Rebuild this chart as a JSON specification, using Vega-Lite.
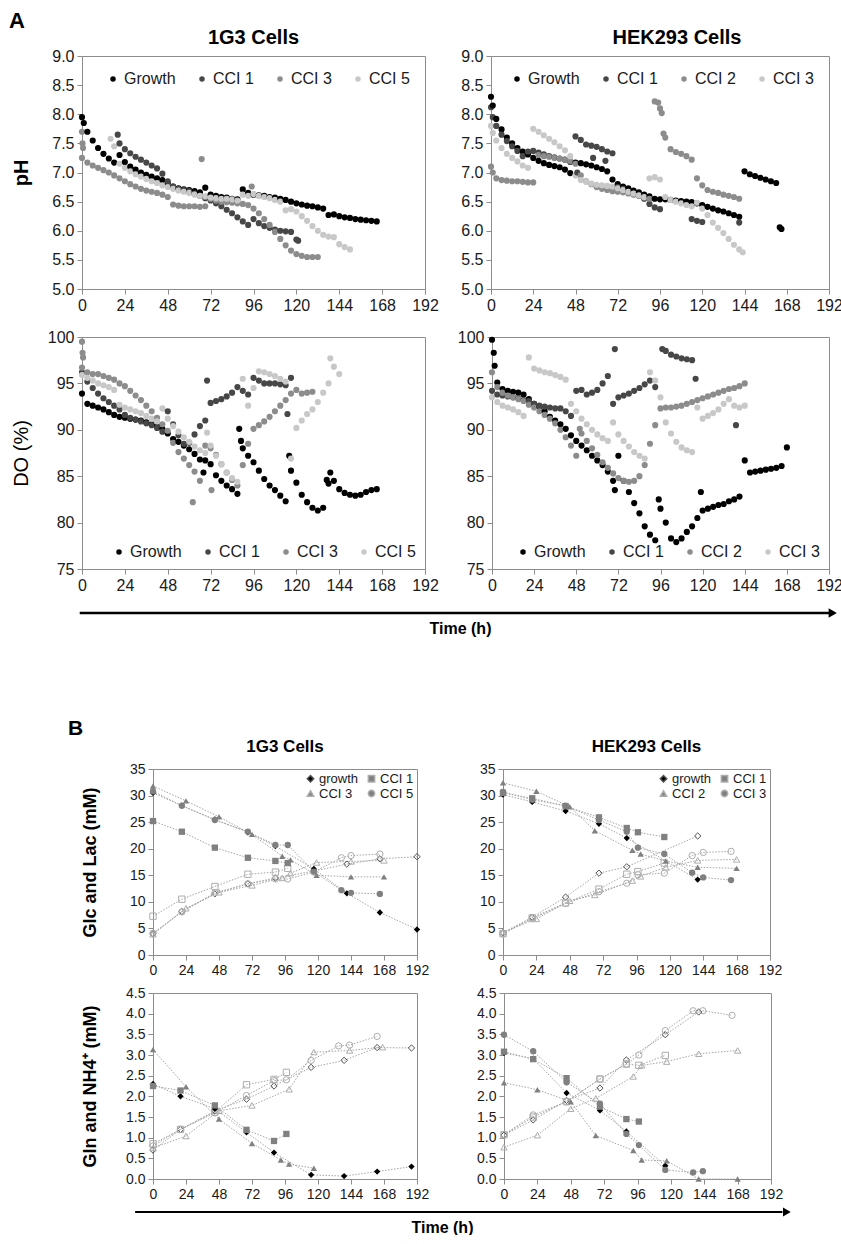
{
"$schema": "https://vega.github.io/schema/vega-lite/v6.json",
"padding": {"left": 9, "top": 9, "right": 0, "bottom": 0},
"background": "white",
"config": {
  "font": "Liberation Sans",
  "view": {"stroke": "#8c8c8c", "strokeWidth": 1},
  "axis": {"grid": false, "domainColor": "#8c8c8c", "tickColor": "#8c8c8c", "labelColor": "#1a1a1a", "titleColor": "#000000", "labelFont": "Liberation Sans", "titleFont": "Liberation Sans", "tickSize": 5, "labelPadding": 3},
  "legend": {"labelFont": "Liberation Sans", "labelColor": "#1a1a1a"},
  "title": {"font": "Liberation Sans", "fontWeight": "bold", "color": "#000000"}
},
"datasets": {
"p1": [
{"t":0,"G":7.95,"b":7.25},{"t":0,"b":7.7},{"t":0.3,"b":7.5},{"t":0.6,"b":7.42},{"t":1,"G":7.85},
{"t":3,"G":7.7,"b":7.17},{"t":6,"G":7.55,"b":7.12},{"t":9,"G":7.42,"b":7.08},{"t":12,"G":7.32,"b":7.04},{"t":15,"G":7.24,"b":7.0},
{"t":16,"c":7.58},{"t":18,"G":7.17,"b":6.95,"c":7.45},{"t":20,"a":7.65},
{"t":21,"G":7.3,"a":7.5,"b":6.9,"c":7.15},{"t":24,"G":7.18,"a":7.4,"b":6.85,"c":7.08},{"t":27,"G":7.1,"a":7.33,"b":6.8,"c":7.02},
{"t":30,"G":7.05,"a":7.27,"b":6.76,"c":6.97},{"t":33,"G":7.0,"a":7.22,"b":6.72,"c":6.93},{"t":36,"G":6.96,"a":7.17,"b":6.69,"c":6.89},
{"t":39,"G":6.93,"a":7.12,"b":6.67,"c":6.85},{"t":42,"G":6.9,"a":7.07,"b":6.65,"c":6.82},{"t":45,"G":6.87,"a":6.98,"b":6.62,"c":6.78},
{"t":48,"G":6.82,"a":6.85,"b":6.58,"c":6.75},{"t":51,"G":6.76,"a":6.76,"b":6.45,"c":6.72},{"t":54,"G":6.73,"a":6.72,"b":6.43,"c":6.69},
{"t":57,"G":6.71,"a":6.7,"b":6.42,"c":6.67},{"t":60,"G":6.7,"a":6.68,"b":6.42,"c":6.65},{"t":63,"G":6.68,"a":6.64,"b":6.42,"c":6.62},
{"t":66,"G":6.66,"a":6.6,"b":6.41,"c":6.6},{"t":67,"b":7.23},{"t":69,"G":6.74,"a":6.56,"b":6.42,"c":6.59},
{"t":72,"G":6.62,"a":6.52,"b":6.55,"c":6.57},{"t":75,"G":6.6,"a":6.47,"b":6.52,"c":6.56},{"t":78,"G":6.58,"a":6.42,"b":6.5,"c":6.55},
{"t":81,"G":6.57,"a":6.36,"b":6.49,"c":6.55},{"t":84,"G":6.55,"a":6.3,"b":6.48,"c":6.54},{"t":87,"G":6.54,"a":6.23,"b":6.47,"c":6.52},
{"t":90,"G":6.71,"a":6.16,"b":6.46,"c":6.62},{"t":93,"G":6.65,"a":6.1,"b":6.44,"c":6.6},{"t":95,"b":6.76},
{"t":96,"G":6.62,"a":6.2,"b":6.38,"c":6.63},{"t":99,"G":6.61,"a":6.13,"b":6.3,"c":6.6},{"t":102,"G":6.6,"a":6.08,"b":6.2,"c":6.58},
{"t":105,"G":6.58,"a":6.05,"b":6.1,"c":6.56},{"t":108,"G":6.57,"a":6.02,"b":5.98,"c":6.53},{"t":111,"G":6.55,"a":6.0,"b":5.86,"c":6.5},
{"t":114,"G":6.53,"a":5.99,"b":5.75,"c":6.35},{"t":117,"G":6.5,"a":5.98,"b":5.66,"c":6.37},{"t":120,"G":6.47,"a":5.85,"b":5.6,"c":6.33},
{"t":121,"a":5.83},{"t":123,"G":6.45,"b":5.57,"c":6.25},{"t":126,"G":6.43,"b":5.55,"c":6.17},{"t":129,"G":6.42,"b":5.55,"c":6.08},
{"t":132,"G":6.4,"b":5.55,"c":6.0},{"t":135,"G":6.38,"c":5.93},{"t":138,"G":6.27,"c":5.9},{"t":141,"G":6.28,"c":5.89},
{"t":144,"G":6.25,"c":5.77},{"t":147,"G":6.23,"c":5.72},{"t":150,"G":6.22,"c":5.68},{"t":153,"G":6.2},{"t":156,"G":6.19},
{"t":159,"G":6.18},{"t":162,"G":6.17},{"t":165,"G":6.16}
],
"p2": [
{"t":0,"G":8.3,"a":8.12,"b":7.1,"c":7.8},{"t":1,"G":8.15,"a":7.95,"b":7.0,"c":7.68},{"t":3,"G":7.92,"a":7.8,"b":6.9,"c":7.55},
{"t":6,"G":7.74,"a":7.65,"b":6.87,"c":7.42},{"t":9,"G":7.6,"a":7.54,"b":6.86,"c":7.32},{"t":12,"G":7.5,"a":7.45,"b":6.85,"c":7.25},
{"t":15,"G":7.42,"a":7.37,"b":6.85,"c":7.19},{"t":18,"G":7.36,"a":7.28,"b":6.84,"c":7.12},{"t":21,"G":7.31,"a":7.36,"b":6.83,"c":7.08},
{"t":24,"G":7.25,"a":7.37,"b":6.83,"c":7.75},{"t":27,"G":7.2,"a":7.34,"b":7.3,"c":7.7},{"t":30,"G":7.16,"a":7.31,"b":7.28,"c":7.64},
{"t":33,"G":7.13,"a":7.28,"b":7.27,"c":7.58},{"t":36,"G":7.11,"a":7.26,"b":7.25,"c":7.52},{"t":39,"G":7.09,"a":7.24,"b":7.24,"c":7.45},
{"t":42,"G":7.05,"a":7.22,"b":7.22,"c":7.38},{"t":45,"G":6.99,"a":7.18,"b":7.2,"c":7.28},{"t":48,"G":7.17,"a":7.62,"b":7.15,"c":6.95},
{"t":49,"a":7.0},{"t":51,"G":7.16,"a":7.56,"b":6.95,"c":6.87},{"t":54,"G":7.14,"a":7.48,"b":6.85,"c":6.84},
{"t":57,"G":7.12,"a":7.46,"b":6.8,"c":6.81},{"t":58,"a":7.25},{"t":60,"G":7.09,"a":7.44,"b":6.75,"c":6.79},
{"t":63,"G":7.06,"a":7.4,"b":6.72,"c":6.78},{"t":65,"a":7.2},{"t":66,"G":7.02,"a":7.36,"b":6.7,"c":6.77},
{"t":69,"G":6.88,"a":7.33,"b":6.68,"c":6.76},{"t":72,"G":6.8,"a":6.75,"b":6.67,"c":6.73},{"t":75,"G":6.76,"a":6.72,"b":6.66,"c":6.7},
{"t":78,"G":6.73,"a":6.67,"b":6.64,"c":6.67},{"t":81,"G":6.69,"a":6.64,"b":6.62,"c":6.64},{"t":84,"G":6.66,"a":6.6,"b":6.6,"c":6.61},
{"t":87,"G":6.62,"a":6.55,"b":6.57,"c":6.58},{"t":90,"G":6.59,"a":6.46,"b":6.55,"c":6.9},{"t":93,"G":6.55,"a":6.4,"b":8.22,"c":6.92},
{"t":95,"b":8.2},{"t":96,"G":6.54,"a":6.37,"b":8.1,"c":6.88},{"t":97,"b":8.02},{"t":98,"b":7.67},
{"t":99,"G":6.54,"b":7.6,"c":6.58},{"t":102,"G":6.53,"b":7.4,"c":6.53},{"t":105,"G":6.52,"b":7.35,"c":6.5},
{"t":108,"G":6.51,"b":7.32,"c":6.47},{"t":111,"G":6.5,"b":7.28,"c":6.44},{"t":114,"G":6.49,"a":6.2,"b":7.22,"c":6.42},
{"t":117,"G":6.47,"a":6.17,"b":6.9,"c":6.48},{"t":120,"G":6.44,"a":6.15,"b":6.78,"c":6.38},{"t":123,"G":6.41,"b":6.7,"c":6.27},
{"t":126,"G":6.38,"b":6.67,"c":6.14},{"t":129,"G":6.35,"b":6.65,"c":6.05},{"t":132,"G":6.33,"b":6.62,"c":5.96},
{"t":135,"G":6.3,"b":6.6,"c":5.86},{"t":138,"G":6.27,"b":6.58,"c":5.76},{"t":141,"G":6.24,"a":6.14,"b":6.55,"c":5.68},
{"t":143,"c":5.63},{"t":144,"G":7.02},{"t":147,"G":6.97},{"t":150,"G":6.94},{"t":153,"G":6.91},{"t":156,"G":6.88},
{"t":159,"G":6.85},{"t":162,"G":6.82},{"t":164,"G":6.06},{"t":165,"G":6.03}
],
"d1": [
{"t":0,"G":93.9,"a":96.2,"b":96.7,"c":95.9},{"t":0,"b":99.5},{"t":0.3,"b":98.3},{"t":0.6,"b":97.8},
{"t":3,"G":92.8,"a":95.2,"b":96.2,"c":95.6},{"t":6,"G":92.6,"a":94.5,"b":96.0,"c":95.3},{"t":9,"G":92.4,"a":93.9,"b":96.0,"c":95.0},
{"t":12,"G":92.2,"a":93.4,"b":95.8,"c":94.8},{"t":15,"G":91.9,"a":93.0,"b":95.6,"c":94.6},{"t":18,"G":91.6,"a":92.6,"b":95.4,"c":94.3},
{"t":21,"G":91.4,"a":92.2,"b":95.0,"c":92.7},{"t":24,"G":91.3,"a":91.6,"b":94.7,"c":92.4},{"t":27,"G":91.2,"a":91.3,"b":94.2,"c":92.2},
{"t":30,"G":91.1,"a":91.1,"b":93.7,"c":92.0},{"t":33,"G":91.0,"a":90.9,"b":93.2,"c":91.8},{"t":36,"G":90.8,"a":90.7,"b":92.6,"c":91.5},
{"t":39,"G":90.6,"a":90.5,"b":92.0,"c":91.2},{"t":42,"G":90.4,"a":90.2,"b":91.3,"c":90.9},{"t":45,"G":90.1,"a":89.8,"b":90.6,"c":92.3},
{"t":48,"G":89.6,"a":92.0,"b":89.9,"c":91.2},{"t":51,"G":89.0,"a":90.6,"b":88.6,"c":90.4},{"t":54,"G":88.7,"a":89.4,"b":87.6,"c":89.8},
{"t":57,"G":88.3,"a":88.5,"b":86.9,"c":89.2},{"t":60,"G":87.9,"a":88.6,"b":86.2,"c":88.7},{"t":62,"b":82.2},
{"t":63,"G":87.4,"a":89.5,"b":85.5,"c":88.2},{"t":66,"G":86.8,"a":90.4,"b":84.5,"c":87.8},{"t":68,"G":85.4},
{"t":69,"G":86.7,"a":91.0,"b":88.3,"c":87.5},{"t":70,"a":95.3,"c":89.7},{"t":72,"G":86.3,"a":92.9,"b":88.0,"c":88.3},{"t":72.5,"b":83.5},
{"t":75,"G":85.1,"a":93.1,"b":87.3,"c":87.2},{"t":78,"G":84.5,"a":93.3,"b":86.3,"c":86.3},{"t":81,"G":84.0,"a":93.6,"b":85.4,"c":85.4},
{"t":84,"G":83.6,"a":94.0,"b":84.6,"c":84.8},{"t":87,"G":83.1,"a":94.6,"b":84.0,"c":84.4},{"t":88,"G":90.1},{"t":89,"G":88.8},
{"t":90,"G":88.0,"a":94.2,"b":86.2,"c":95.5},{"t":93,"G":87.2,"a":93.8,"b":88.5,"c":92.6},{"t":96,"G":86.5,"a":95.6,"b":90.1,"c":94.5},
{"t":99,"G":85.6,"a":95.3,"b":90.5,"c":96.3},{"t":102,"G":84.7,"a":95.0,"b":90.9,"c":96.2},{"t":105,"G":84.0,"a":95.0,"b":91.4,"c":96.0},
{"t":108,"G":83.5,"a":95.0,"b":92.0,"c":95.8},{"t":111,"G":82.9,"a":94.9,"b":92.6,"c":95.5},{"t":114,"G":82.3,"a":94.8,"b":93.2,"c":95.2},
{"t":115,"a":91.7},{"t":116,"G":87.2},{"t":117,"G":85.6,"a":95.6,"b":93.9,"c":86.9},{"t":120,"G":84.3,"b":94.3,"c":90.2},
{"t":123,"G":83.0,"b":93.9,"c":91.0},{"t":126,"G":82.2,"b":94.0,"c":91.7},{"t":129,"G":81.6,"b":94.1,"c":92.2},
{"t":132,"G":81.3,"c":93.0},{"t":135,"G":81.6,"c":94.0},{"t":137,"G":84.6},{"t":138,"G":84.2,"c":95.0},{"t":139,"G":85.4,"c":97.7},
{"t":141,"G":84.5,"c":96.8},{"t":144,"G":83.6,"c":96.0},{"t":147,"G":83.2},{"t":150,"G":83.0},{"t":153,"G":82.9},
{"t":156,"G":83.0},{"t":159,"G":83.3},{"t":162,"G":83.5},{"t":165,"G":83.6}
],
"d2": [
{"t":0,"G":99.7,"a":94.2,"b":96.2,"c":93.5},{"t":1,"G":98.3},{"t":1.5,"G":96.9},
{"t":3,"G":95.1,"a":93.8,"b":94.6,"c":93.0},{"t":6,"G":94.4,"a":93.7,"b":94.0,"c":92.6},{"t":9,"G":94.2,"a":93.6,"b":93.7,"c":92.4},
{"t":12,"G":94.1,"a":93.5,"b":93.5,"c":92.2},{"t":15,"G":94.0,"a":93.4,"b":93.3,"c":91.9},{"t":18,"G":93.8,"a":93.2,"b":93.1,"c":91.5},
{"t":21,"G":93.3,"a":93.1,"b":92.7,"c":97.8},{"t":24,"G":92.8,"a":92.8,"b":92.4,"c":96.6},{"t":27,"G":92.5,"a":92.6,"b":92.0,"c":96.4},
{"t":30,"G":92.0,"a":92.5,"b":91.6,"c":96.2},{"t":33,"G":91.4,"a":92.4,"b":91.2,"c":96.1},{"t":36,"G":91.0,"a":92.3,"b":90.7,"c":95.9},
{"t":39,"G":90.6,"a":92.3,"b":90.0,"c":95.7},{"t":42,"G":90.1,"a":92.0,"b":89.2,"c":95.4},{"t":45,"G":89.4,"a":91.5,"b":88.3,"c":92.8},
{"t":48,"G":88.8,"a":94.2,"b":87.2,"c":92.0},{"t":50,"b":90.1},{"t":51,"G":88.3,"a":94.3,"b":89.6,"c":91.2},
{"t":54,"G":87.8,"a":93.8,"b":88.8,"c":90.6},{"t":57,"G":87.2,"a":94.0,"b":88.0,"c":90.0},{"t":60,"G":86.7,"a":94.3,"b":87.3,"c":89.5},
{"t":63,"G":86.2,"a":95.0,"b":86.5,"c":89.1},{"t":66,"G":85.5,"a":95.8,"b":85.9,"c":88.8},{"t":69,"G":84.5,"a":92.8,"b":85.3,"c":90.8},
{"t":70,"G":83.5,"a":98.7},{"t":72,"G":87.2,"a":93.5,"b":84.8,"c":89.5},{"t":75,"G":84.5,"a":93.7,"b":84.5,"c":88.8},
{"t":78,"G":83.3,"a":93.9,"b":84.4,"c":88.2},{"t":81,"G":82.1,"a":94.2,"b":84.5,"c":87.6},{"t":84,"G":81.0,"a":94.5,"b":85.0,"c":87.2},
{"t":87,"G":79.6,"a":94.9,"b":86.2,"c":86.9},{"t":90,"G":78.7,"a":95.3,"b":88.5,"c":96.2},{"t":93,"G":78.1,"a":94.6,"b":90.5,"c":95.3},
{"t":95,"G":82.5},{"t":96,"G":81.5,"b":92.3,"c":93.5},{"t":97,"a":98.7},{"t":99,"G":80.0,"a":98.5,"b":92.4,"c":90.8},
{"t":102,"G":78.3,"a":98.1,"b":92.4,"c":89.6},{"t":105,"G":77.9,"a":97.9,"b":92.5,"c":88.7},{"t":108,"G":78.3,"a":97.7,"b":92.6,"c":88.1},
{"t":111,"G":79.0,"a":97.6,"b":92.8,"c":87.8},{"t":114,"G":79.6,"a":97.5,"b":93.0,"c":87.6},{"t":116,"a":95.5},
{"t":117,"G":80.5,"b":93.2,"c":92.4},{"t":119,"G":83.3},{"t":120,"G":81.3,"b":93.4,"c":91.2},{"t":123,"G":81.5,"b":93.6,"c":91.5},
{"t":126,"G":81.7,"b":93.8,"c":91.8},{"t":129,"G":81.9,"b":94.0,"c":92.2},{"t":132,"G":82.0,"b":94.2,"c":92.8},
{"t":135,"G":82.3,"b":94.4,"c":93.3},{"t":138,"G":82.5,"b":94.5,"c":92.6},{"t":139,"a":90.5},{"t":141,"G":82.8,"b":94.7,"c":92.4},
{"t":144,"G":86.7,"b":95.0,"c":92.6},{"t":147,"G":85.4},{"t":150,"G":85.5},{"t":153,"G":85.6},{"t":156,"G":85.7},
{"t":159,"G":85.8},{"t":162,"G":85.9},{"t":165,"G":86.1},{"t":168,"G":88.1}
],
"g1": [
{"s":"growth","m":"Glc","t":0,"y":30.5},{"s":"growth","m":"Glc","t":21,"y":28.1},{"s":"growth","m":"Glc","t":45,"y":25.5},{"s":"growth","m":"Glc","t":69,"y":23.1},{"s":"growth","m":"Glc","t":89,"y":20.5},{"s":"growth","m":"Glc","t":117,"y":16.2},{"s":"growth","m":"Glc","t":141,"y":11.6},{"s":"growth","m":"Glc","t":165,"y":8.0},{"s":"growth","m":"Glc","t":192,"y":4.8},
{"s":"growth","m":"Lac","t":0,"y":4.0},{"s":"growth","m":"Lac","t":21,"y":8.2},{"s":"growth","m":"Lac","t":45,"y":11.5},{"s":"growth","m":"Lac","t":69,"y":13.4},{"s":"growth","m":"Lac","t":89,"y":14.5},{"s":"growth","m":"Lac","t":117,"y":15.8},{"s":"growth","m":"Lac","t":141,"y":17.1},{"s":"growth","m":"Lac","t":165,"y":18.1},{"s":"growth","m":"Lac","t":192,"y":18.5},
{"s":"CCI 1","m":"Glc","t":0,"y":25.2},{"s":"CCI 1","m":"Glc","t":21,"y":23.2},{"s":"CCI 1","m":"Glc","t":45,"y":20.2},{"s":"CCI 1","m":"Glc","t":69,"y":18.3},{"s":"CCI 1","m":"Glc","t":89,"y":17.7},{"s":"CCI 1","m":"Glc","t":98,"y":17.3},
{"s":"CCI 1","m":"Lac","t":0,"y":7.3},{"s":"CCI 1","m":"Lac","t":21,"y":10.5},{"s":"CCI 1","m":"Lac","t":45,"y":12.9},{"s":"CCI 1","m":"Lac","t":69,"y":15.2},{"s":"CCI 1","m":"Lac","t":89,"y":15.6},{"s":"CCI 1","m":"Lac","t":98,"y":16.3},
{"s":"CCI 3","m":"Glc","t":0,"y":31.8},{"s":"CCI 3","m":"Glc","t":24,"y":29.0},{"s":"CCI 3","m":"Glc","t":48,"y":26.0},{"s":"CCI 3","m":"Glc","t":72,"y":22.7},{"s":"CCI 3","m":"Glc","t":94,"y":18.6},{"s":"CCI 3","m":"Glc","t":100,"y":17.9},{"s":"CCI 3","m":"Glc","t":119,"y":15.0},{"s":"CCI 3","m":"Glc","t":144,"y":14.7},{"s":"CCI 3","m":"Glc","t":168,"y":14.7},
{"s":"CCI 3","m":"Lac","t":0,"y":3.9},{"s":"CCI 3","m":"Lac","t":24,"y":8.8},{"s":"CCI 3","m":"Lac","t":48,"y":11.8},{"s":"CCI 3","m":"Lac","t":72,"y":13.1},{"s":"CCI 3","m":"Lac","t":94,"y":14.5},{"s":"CCI 3","m":"Lac","t":100,"y":15.4},{"s":"CCI 3","m":"Lac","t":119,"y":17.4},{"s":"CCI 3","m":"Lac","t":144,"y":17.6},{"s":"CCI 3","m":"Lac","t":168,"y":17.8},
{"s":"CCI 5","m":"Glc","t":0,"y":30.8},{"s":"CCI 5","m":"Glc","t":21,"y":28.1},{"s":"CCI 5","m":"Glc","t":45,"y":25.4},{"s":"CCI 5","m":"Glc","t":69,"y":23.2},{"s":"CCI 5","m":"Glc","t":89,"y":20.7},{"s":"CCI 5","m":"Glc","t":98,"y":20.7},{"s":"CCI 5","m":"Glc","t":117,"y":15.7},{"s":"CCI 5","m":"Glc","t":137,"y":12.2},{"s":"CCI 5","m":"Glc","t":144,"y":11.7},{"s":"CCI 5","m":"Glc","t":165,"y":11.5},
{"s":"CCI 5","m":"Lac","t":0,"y":4.1},{"s":"CCI 5","m":"Lac","t":21,"y":8.1},{"s":"CCI 5","m":"Lac","t":45,"y":11.7},{"s":"CCI 5","m":"Lac","t":69,"y":13.4},{"s":"CCI 5","m":"Lac","t":89,"y":14.3},{"s":"CCI 5","m":"Lac","t":98,"y":14.3},{"s":"CCI 5","m":"Lac","t":117,"y":15.6},{"s":"CCI 5","m":"Lac","t":137,"y":18.3},{"s":"CCI 5","m":"Lac","t":144,"y":18.7},{"s":"CCI 5","m":"Lac","t":165,"y":19.0}
],
"g2": [
{"s":"growth","m":"Glc","t":0,"y":30.2},{"s":"growth","m":"Glc","t":21,"y":28.8},{"s":"growth","m":"Glc","t":45,"y":27.1},{"s":"growth","m":"Glc","t":69,"y":24.7},{"s":"growth","m":"Glc","t":89,"y":22.0},{"s":"growth","m":"Glc","t":140,"y":14.2},
{"s":"growth","m":"Lac","t":0,"y":4.2},{"s":"growth","m":"Lac","t":21,"y":7.1},{"s":"growth","m":"Lac","t":45,"y":10.9},{"s":"growth","m":"Lac","t":69,"y":15.4},{"s":"growth","m":"Lac","t":89,"y":16.6},{"s":"growth","m":"Lac","t":140,"y":22.4},
{"s":"CCI 1","m":"Glc","t":0,"y":30.5},{"s":"CCI 1","m":"Glc","t":21,"y":29.5},{"s":"CCI 1","m":"Glc","t":45,"y":28.0},{"s":"CCI 1","m":"Glc","t":69,"y":25.9},{"s":"CCI 1","m":"Glc","t":89,"y":23.9},{"s":"CCI 1","m":"Glc","t":97,"y":23.1},{"s":"CCI 1","m":"Glc","t":116,"y":22.2},
{"s":"CCI 1","m":"Lac","t":0,"y":4.0},{"s":"CCI 1","m":"Lac","t":21,"y":7.0},{"s":"CCI 1","m":"Lac","t":45,"y":9.8},{"s":"CCI 1","m":"Lac","t":69,"y":12.4},{"s":"CCI 1","m":"Lac","t":89,"y":15.2},{"s":"CCI 1","m":"Lac","t":97,"y":15.7},{"s":"CCI 1","m":"Lac","t":116,"y":17.3},
{"s":"CCI 2","m":"Glc","t":0,"y":32.4},{"s":"CCI 2","m":"Glc","t":24,"y":30.8},{"s":"CCI 2","m":"Glc","t":48,"y":27.9},{"s":"CCI 2","m":"Glc","t":66,"y":23.4},{"s":"CCI 2","m":"Glc","t":93,"y":19.7},{"s":"CCI 2","m":"Glc","t":99,"y":19.0},{"s":"CCI 2","m":"Glc","t":117,"y":17.7},{"s":"CCI 2","m":"Glc","t":140,"y":16.5},{"s":"CCI 2","m":"Glc","t":168,"y":16.3},
{"s":"CCI 2","m":"Lac","t":0,"y":4.3},{"s":"CCI 2","m":"Lac","t":24,"y":6.8},{"s":"CCI 2","m":"Lac","t":48,"y":10.2},{"s":"CCI 2","m":"Lac","t":66,"y":11.3},{"s":"CCI 2","m":"Lac","t":93,"y":14.0},{"s":"CCI 2","m":"Lac","t":99,"y":14.8},{"s":"CCI 2","m":"Lac","t":117,"y":16.5},{"s":"CCI 2","m":"Lac","t":140,"y":17.8},{"s":"CCI 2","m":"Lac","t":168,"y":18.0},
{"s":"CCI 3","m":"Glc","t":0,"y":30.7},{"s":"CCI 3","m":"Glc","t":21,"y":29.2},{"s":"CCI 3","m":"Glc","t":45,"y":28.1},{"s":"CCI 3","m":"Glc","t":69,"y":25.4},{"s":"CCI 3","m":"Glc","t":89,"y":23.2},{"s":"CCI 3","m":"Glc","t":97,"y":20.2},{"s":"CCI 3","m":"Glc","t":116,"y":19.0},{"s":"CCI 3","m":"Glc","t":136,"y":15.5},{"s":"CCI 3","m":"Glc","t":144,"y":14.6},{"s":"CCI 3","m":"Glc","t":164,"y":14.1},
{"s":"CCI 3","m":"Lac","t":0,"y":4.0},{"s":"CCI 3","m":"Lac","t":21,"y":6.8},{"s":"CCI 3","m":"Lac","t":45,"y":9.7},{"s":"CCI 3","m":"Lac","t":69,"y":11.9},{"s":"CCI 3","m":"Lac","t":89,"y":13.5},{"s":"CCI 3","m":"Lac","t":97,"y":15.1},{"s":"CCI 3","m":"Lac","t":116,"y":15.4},{"s":"CCI 3","m":"Lac","t":136,"y":18.7},{"s":"CCI 3","m":"Lac","t":144,"y":19.3},{"s":"CCI 3","m":"Lac","t":164,"y":19.5}
],
"n1": [
{"s":"growth","m":"Gln","t":0,"y":2.3},{"s":"growth","m":"Gln","t":20,"y":2.0},{"s":"growth","m":"Gln","t":45,"y":1.7},{"s":"growth","m":"Gln","t":68,"y":1.13},{"s":"growth","m":"Gln","t":88,"y":0.64},{"s":"growth","m":"Gln","t":115,"y":0.1},{"s":"growth","m":"Gln","t":139,"y":0.07},{"s":"growth","m":"Gln","t":163,"y":0.18},{"s":"growth","m":"Gln","t":188,"y":0.3},
{"s":"growth","m":"NH4","t":0,"y":0.7},{"s":"growth","m":"NH4","t":20,"y":1.2},{"s":"growth","m":"NH4","t":45,"y":1.65},{"s":"growth","m":"NH4","t":68,"y":1.93},{"s":"growth","m":"NH4","t":88,"y":2.25},{"s":"growth","m":"NH4","t":115,"y":2.7},{"s":"growth","m":"NH4","t":139,"y":2.87},{"s":"growth","m":"NH4","t":163,"y":3.18},{"s":"growth","m":"NH4","t":188,"y":3.17},
{"s":"CCI 1","m":"Gln","t":0,"y":2.25},{"s":"CCI 1","m":"Gln","t":20,"y":2.14},{"s":"CCI 1","m":"Gln","t":45,"y":1.78},{"s":"CCI 1","m":"Gln","t":68,"y":1.19},{"s":"CCI 1","m":"Gln","t":88,"y":0.92},{"s":"CCI 1","m":"Gln","t":97,"y":1.09},
{"s":"CCI 1","m":"NH4","t":0,"y":0.85},{"s":"CCI 1","m":"NH4","t":20,"y":1.2},{"s":"CCI 1","m":"NH4","t":45,"y":1.62},{"s":"CCI 1","m":"NH4","t":68,"y":2.28},{"s":"CCI 1","m":"NH4","t":88,"y":2.41},{"s":"CCI 1","m":"NH4","t":97,"y":2.58},
{"s":"CCI 3","m":"Gln","t":0,"y":3.13},{"s":"CCI 3","m":"Gln","t":24,"y":2.23},{"s":"CCI 3","m":"Gln","t":48,"y":1.45},{"s":"CCI 3","m":"Gln","t":72,"y":0.86},{"s":"CCI 3","m":"Gln","t":93,"y":0.46},{"s":"CCI 3","m":"Gln","t":99,"y":0.36},{"s":"CCI 3","m":"Gln","t":117,"y":0.26},
{"s":"CCI 3","m":"NH4","t":0,"y":0.75},{"s":"CCI 3","m":"NH4","t":24,"y":1.04},{"s":"CCI 3","m":"NH4","t":48,"y":1.65},{"s":"CCI 3","m":"NH4","t":72,"y":1.78},{"s":"CCI 3","m":"NH4","t":99,"y":2.17},{"s":"CCI 3","m":"NH4","t":117,"y":3.07},{"s":"CCI 3","m":"NH4","t":143,"y":3.11},{"s":"CCI 3","m":"NH4","t":167,"y":3.19},
{"s":"CCI 5","m":"NH4","t":0,"y":0.8},{"s":"CCI 5","m":"NH4","t":20,"y":1.2},{"s":"CCI 5","m":"NH4","t":45,"y":1.6},{"s":"CCI 5","m":"NH4","t":68,"y":2.02},{"s":"CCI 5","m":"NH4","t":88,"y":2.38},{"s":"CCI 5","m":"NH4","t":97,"y":2.4},{"s":"CCI 5","m":"NH4","t":115,"y":2.87},{"s":"CCI 5","m":"NH4","t":135,"y":3.22},{"s":"CCI 5","m":"NH4","t":143,"y":3.24},{"s":"CCI 5","m":"NH4","t":163,"y":3.45}
],
"n2": [
{"s":"growth","m":"Gln","t":0,"y":3.05},{"s":"growth","m":"Gln","t":21,"y":2.91},{"s":"growth","m":"Gln","t":45,"y":2.08},{"s":"growth","m":"Gln","t":69,"y":1.66},{"s":"growth","m":"Gln","t":88,"y":1.15},{"s":"growth","m":"Gln","t":116,"y":0.32},
{"s":"growth","m":"NH4","t":0,"y":1.06},{"s":"growth","m":"NH4","t":21,"y":1.43},{"s":"growth","m":"NH4","t":45,"y":1.9},{"s":"growth","m":"NH4","t":69,"y":2.2},{"s":"growth","m":"NH4","t":88,"y":2.88},{"s":"growth","m":"NH4","t":116,"y":3.49},{"s":"growth","m":"NH4","t":140,"y":4.04},
{"s":"CCI 1","m":"Gln","t":0,"y":3.08},{"s":"CCI 1","m":"Gln","t":21,"y":2.9},{"s":"CCI 1","m":"Gln","t":45,"y":2.44},{"s":"CCI 1","m":"Gln","t":69,"y":1.75},{"s":"CCI 1","m":"Gln","t":88,"y":1.45},{"s":"CCI 1","m":"Gln","t":97,"y":1.39},
{"s":"CCI 1","m":"NH4","t":0,"y":1.07},{"s":"CCI 1","m":"NH4","t":21,"y":1.5},{"s":"CCI 1","m":"NH4","t":45,"y":1.87},{"s":"CCI 1","m":"NH4","t":69,"y":2.42},{"s":"CCI 1","m":"NH4","t":88,"y":2.78},{"s":"CCI 1","m":"NH4","t":97,"y":2.75},{"s":"CCI 1","m":"NH4","t":116,"y":2.99},
{"s":"CCI 2","m":"Gln","t":0,"y":2.33},{"s":"CCI 2","m":"Gln","t":24,"y":2.16},{"s":"CCI 2","m":"Gln","t":48,"y":1.87},{"s":"CCI 2","m":"Gln","t":66,"y":1.05},{"s":"CCI 2","m":"Gln","t":93,"y":0.69},{"s":"CCI 2","m":"Gln","t":99,"y":0.46},{"s":"CCI 2","m":"Gln","t":117,"y":0.44},{"s":"CCI 2","m":"Gln","t":140,"y":0.0},{"s":"CCI 2","m":"Gln","t":168,"y":0.0},
{"s":"CCI 2","m":"NH4","t":0,"y":0.77},{"s":"CCI 2","m":"NH4","t":24,"y":1.06},{"s":"CCI 2","m":"NH4","t":48,"y":1.7},{"s":"CCI 2","m":"NH4","t":66,"y":1.95},{"s":"CCI 2","m":"NH4","t":93,"y":2.48},{"s":"CCI 2","m":"NH4","t":99,"y":2.75},{"s":"CCI 2","m":"NH4","t":117,"y":2.84},{"s":"CCI 2","m":"NH4","t":140,"y":3.03},{"s":"CCI 2","m":"NH4","t":168,"y":3.11},
{"s":"CCI 3","m":"Gln","t":0,"y":3.49},{"s":"CCI 3","m":"Gln","t":21,"y":3.09},{"s":"CCI 3","m":"Gln","t":45,"y":2.34},{"s":"CCI 3","m":"Gln","t":69,"y":1.82},{"s":"CCI 3","m":"Gln","t":88,"y":1.09},{"s":"CCI 3","m":"Gln","t":97,"y":0.82},{"s":"CCI 3","m":"Gln","t":116,"y":0.22},{"s":"CCI 3","m":"Gln","t":136,"y":0.16},{"s":"CCI 3","m":"Gln","t":143,"y":0.19},
{"s":"CCI 3","m":"NH4","t":0,"y":1.07},{"s":"CCI 3","m":"NH4","t":21,"y":1.55},{"s":"CCI 3","m":"NH4","t":45,"y":1.87},{"s":"CCI 3","m":"NH4","t":69,"y":2.42},{"s":"CCI 3","m":"NH4","t":88,"y":2.78},{"s":"CCI 3","m":"NH4","t":97,"y":3.0},{"s":"CCI 3","m":"NH4","t":116,"y":3.59},{"s":"CCI 3","m":"NH4","t":136,"y":4.07},{"s":"CCI 3","m":"NH4","t":143,"y":4.07},{"s":"CCI 3","m":"NH4","t":164,"y":3.96}
]
},
"resolve": {"scale": {"color": "independent", "shape": "independent", "fill": "independent", "stroke": "independent"}},
"spacing": 81,
"vconcat": [
{
  "title": {"text": "A", "anchor": "start", "fontSize": 22, "offset": -5},
  "spacing": 0,
  "resolve": {"scale": {"color": "independent", "shape": "independent", "fill": "independent", "stroke": "independent"}},
  "hconcat": [
    {
      "width": 1, "height": 1,
      "view": {"stroke": null},
      "data": {"values": [{}]},
      "mark": {"type": "point", "opacity": 0, "size": 0, "strokeWidth": 0},
      "encoding": {}
    },
    {
      "resolve": {"scale": {"color": "independent", "shape": "independent", "fill": "independent", "stroke": "independent"}},
      "spacing": 14,
      "vconcat": [
        {
          "spacing": 21,
          "resolve": {"scale": {"color": "independent", "shape": "independent", "fill": "independent", "stroke": "independent"}},
          "hconcat": [
            {
              "width": 343, "height": 233,
              "title": {"text": "1G3 Cells", "frame": "group", "fontSize": 20, "offset": 0},
              "data": {"name": "p1"},
              "transform": [{"fold": ["G","a","b","c"], "as": ["s","v"]}, {"filter": "isValid(datum.v)"}],
              "mark": {"type": "circle", "size": 38, "opacity": 1},
              "encoding": {
                "x": {"field": "t", "type": "quantitative", "scale": {"domain": [0,192], "nice": false, "zero": false}, "axis": {"values": [0,24,48,72,96,120,144,168,192], "title": null, "labelFontSize": 16, "labelFlush": false, "labelOverlap": false}},
                "y": {"field": "v", "type": "quantitative", "scale": {"domain": [5,9], "nice": false, "zero": false}, "axis": {"values": [5,5.5,6,6.5,7,7.5,8,8.5,9], "format": ".1f", "title": "pH", "titleFontSize": 20, "titleFontWeight": "bold", "titlePadding": 20, "minExtent": 31, "maxExtent": 31, "labelFontSize": 16}},
                "color": {"field": "s", "type": "nominal", "scale": {"domain": ["G","a","b","c"], "range": ["#000000","#474747","#8c8c8c","#c8c8c8"]}, "legend": {"title": null, "orient": "top-right", "direction": "horizontal", "offset": 15, "labelFontSize": 16, "symbolSize": 30, "symbolType": "circle", "symbolStrokeWidth": 0, "columnPadding": 18, "labelOffset": 3, "labelExpr": "{'G':'Growth','a':'CCI 1','b':'CCI 3','c':'CCI 5'}[datum.label]"}}
              }
            },
            {
              "width": 338, "height": 233,
              "title": {"text": "HEK293 Cells", "frame": "group", "fontSize": 20, "offset": 0, "dx": 17},
              "data": {"name": "p2"},
              "transform": [{"fold": ["G","a","b","c"], "as": ["s","v"]}, {"filter": "isValid(datum.v)"}],
              "mark": {"type": "circle", "size": 38, "opacity": 1},
              "encoding": {
                "x": {"field": "t", "type": "quantitative", "scale": {"domain": [0,192], "nice": false, "zero": false}, "axis": {"values": [0,24,48,72,96,120,144,168,192], "title": null, "labelFontSize": 16, "labelFlush": false, "labelOverlap": false}},
                "y": {"field": "v", "type": "quantitative", "scale": {"domain": [5,9], "nice": false, "zero": false}, "axis": {"values": [5,5.5,6,6.5,7,7.5,8,8.5,9], "format": ".1f", "title": null, "labelFontSize": 16}},
                "color": {"field": "s", "type": "nominal", "scale": {"domain": ["G","a","b","c"], "range": ["#000000","#474747","#8c8c8c","#c8c8c8"]}, "legend": {"title": null, "orient": "top-right", "direction": "horizontal", "offset": 15, "labelFontSize": 16, "symbolSize": 30, "symbolType": "circle", "symbolStrokeWidth": 0, "columnPadding": 18, "labelOffset": 3, "labelExpr": "{'G':'Growth','a':'CCI 1','b':'CCI 2','c':'CCI 3'}[datum.label]"}}
              }
            }
          ]
        },
        {
          "spacing": 17,
          "resolve": {"scale": {"color": "independent", "shape": "independent", "fill": "independent", "stroke": "independent"}},
          "hconcat": [
            {
              "width": 343, "height": 232,
              "data": {"name": "d1"},
              "transform": [{"fold": ["G","a","b","c"], "as": ["s","v"]}, {"filter": "isValid(datum.v)"}],
              "mark": {"type": "circle", "size": 38, "opacity": 1},
              "encoding": {
                "x": {"field": "t", "type": "quantitative", "scale": {"domain": [0,192], "nice": false, "zero": false}, "axis": {"values": [0,24,48,72,96,120,144,168,192], "title": null, "labelFontSize": 16, "labelFlush": false, "labelOverlap": false}},
                "y": {"field": "v", "type": "quantitative", "scale": {"domain": [75,100], "nice": false, "zero": false}, "axis": {"values": [75,80,85,90,95,100], "title": "DO (%)", "titleFontSize": 20, "titleFontWeight": "normal", "titlePadding": 20, "minExtent": 31, "maxExtent": 31, "labelFontSize": 16}},
                "color": {"field": "s", "type": "nominal", "scale": {"domain": ["G","a","b","c"], "range": ["#000000","#474747","#8c8c8c","#c8c8c8"]}, "legend": {"title": null, "orient": "bottom-right", "direction": "horizontal", "offset": 9, "labelFontSize": 16, "symbolSize": 30, "symbolType": "circle", "symbolStrokeWidth": 0, "columnPadding": 18, "labelOffset": 3, "labelExpr": "{'G':'Growth','a':'CCI 1','b':'CCI 3','c':'CCI 5'}[datum.label]"}}
              }
            },
            {
              "width": 337, "height": 232,
              "data": {"name": "d2"},
              "transform": [{"fold": ["G","a","b","c"], "as": ["s","v"]}, {"filter": "isValid(datum.v)"}],
              "mark": {"type": "circle", "size": 38, "opacity": 1},
              "encoding": {
                "x": {"field": "t", "type": "quantitative", "scale": {"domain": [0,192], "nice": false, "zero": false}, "axis": {"values": [0,24,48,72,96,120,144,168,192], "title": null, "labelFontSize": 16, "labelFlush": false, "labelOverlap": false}},
                "y": {"field": "v", "type": "quantitative", "scale": {"domain": [75,100], "nice": false, "zero": false}, "axis": {"values": [75,80,85,90,95,100], "title": null, "labelFontSize": 16}},
                "color": {"field": "s", "type": "nominal", "scale": {"domain": ["G","a","b","c"], "range": ["#000000","#474747","#8c8c8c","#c8c8c8"]}, "legend": {"title": null, "orient": "bottom-right", "direction": "horizontal", "offset": 9, "labelFontSize": 16, "symbolSize": 30, "symbolType": "circle", "symbolStrokeWidth": 0, "columnPadding": 18, "labelOffset": 3, "labelExpr": "{'G':'Growth','a':'CCI 1','b':'CCI 2','c':'CCI 3'}[datum.label]"}}
              }
            }
          ]
        },
        {
          "width": 756, "height": 6,
          "view": {"stroke": null},
          "data": {"values": [{}]},
          "layer": [
            {"mark": {"type": "rule", "color": "#000000", "strokeWidth": 2.5},
             "encoding": {
               "x": {"datum": -0.003, "type": "quantitative", "scale": {"domain": [0,1], "nice": false, "zero": false}, "axis": {"title": "Time (h)", "labels": false, "ticks": false, "domain": false, "grid": false, "titleFontSize": 16, "titleFontWeight": "bold", "titlePadding": 4, "minExtent": 0, "maxExtent": 0}},
               "x2": {"datum": 0.99},
               "y": {"datum": 0.5, "type": "quantitative", "scale": {"domain": [0,1]}, "axis": null}
             }},
            {"mark": {"type": "point", "shape": "triangle-right", "filled": true, "color": "#000000", "size": 90, "opacity": 1},
             "encoding": {
               "x": {"datum": 0.993, "type": "quantitative"},
               "y": {"datum": 0.5, "type": "quantitative"}
             }}
          ]
        }
      ]
    }
  ]
},
{
  "title": {"text": "B", "anchor": "start", "fontSize": 21, "dx": 59, "offset": -1},
  "spacing": 0,
  "resolve": {"scale": {"color": "independent", "shape": "independent", "fill": "independent", "stroke": "independent"}},
  "hconcat": [
    {
      "width": 71, "height": 1,
      "view": {"stroke": null},
      "data": {"values": [{}]},
      "mark": {"type": "point", "opacity": 0, "size": 0, "strokeWidth": 0},
      "encoding": {}
    },
    {
      "spacing": 5,
      "resolve": {"scale": {"color": "independent", "shape": "independent", "fill": "independent", "stroke": "independent"}},
      "vconcat": [
        {
          "spacing": 7,
          "resolve": {"scale": {"color": "independent", "shape": "independent", "fill": "independent", "stroke": "independent"}},
          "vconcat": [
            {
              "spacing": 48,
              "resolve": {"scale": {"color": "independent", "shape": "independent", "fill": "independent", "stroke": "independent"}},
              "hconcat": [
                {
                  "width": 264, "height": 186,
                  "title": {"text": "1G3 Cells", "frame": "group", "fontSize": 17, "offset": 6},
                  "data": {"name": "g1"},
                  "encoding": {
                    "x": {"field": "t", "type": "quantitative", "scale": {"domain": [0,192], "nice": false, "zero": false}, "axis": {"values": [0,24,48,72,96,120,144,168,192], "title": null, "labelFontSize": 14, "labelFlush": false, "labelOverlap": false}},
                    "y": {"field": "y", "type": "quantitative", "scale": {"domain": [0,35], "nice": false}, "axis": {"values": [0,5,10,15,20,25,30,35], "title": "Glc and Lac (mM)", "titleFontSize": 18, "titleFontWeight": "bold", "titlePadding": 26, "minExtent": 28, "maxExtent": 28, "labelFontSize": 14}}
                  },
                  "layer": [
                    {"mark": {"type": "line", "stroke": "#a6a6a6", "strokeWidth": 1, "strokeDash": [1.5,1.5]}, "encoding": {"detail": [{"field": "s"}, {"field": "m"}]}},
                    {"transform": [{"filter": "datum.m == 'Lac'"}], "mark": {"type": "point", "filled": false, "size": 40, "opacity": 1, "strokeWidth": 1},
                     "encoding": {"shape": {"field": "s", "type": "nominal"}, "stroke": {"field": "s", "type": "nominal", "scale": {"domain": ["growth","CCI 1","CCI 3","CCI 5"], "range": ["#505050","#adadad","#adadad","#adadad"]}, "legend": null}}},
                    {"transform": [{"filter": "datum.m == 'Glc'"}], "mark": {"type": "point", "filled": true, "size": 40, "opacity": 1},
                     "encoding": {
                       "shape": {"field": "s", "type": "nominal", "scale": {"domain": ["growth","CCI 1","CCI 3","CCI 5"], "range": ["diamond","square","triangle-up","circle"]}, "legend": {"title": null, "orient": "top-right", "direction": "horizontal", "columns": 2, "offset": 3, "labelFontSize": 13, "symbolSize": 40, "columnPadding": 6, "rowPadding": 1, "labelOffset": 2}},
                       "fill": {"field": "s", "type": "nominal", "scale": {"domain": ["growth","CCI 1","CCI 3","CCI 5"], "range": ["#000000","#808080","#808080","#808080"]}, "legend": {"title": null, "orient": "top-right", "direction": "horizontal", "columns": 2, "offset": 3, "labelFontSize": 13, "symbolSize": 40, "columnPadding": 6, "rowPadding": 1, "labelOffset": 2}}
                     }}
                  ]
                },
                {
                  "width": 267, "height": 186,
                  "title": {"text": "HEK293 Cells", "frame": "group", "fontSize": 17, "offset": 6, "dx": 10},
                  "data": {"name": "g2"},
                  "encoding": {
                    "x": {"field": "t", "type": "quantitative", "scale": {"domain": [0,192], "nice": false, "zero": false}, "axis": {"values": [0,24,48,72,96,120,144,168,192], "title": null, "labelFontSize": 14, "labelFlush": false, "labelOverlap": false}},
                    "y": {"field": "y", "type": "quantitative", "scale": {"domain": [0,35], "nice": false}, "axis": {"values": [0,5,10,15,20,25,30,35], "title": null, "labelFontSize": 14}}
                  },
                  "layer": [
                    {"mark": {"type": "line", "stroke": "#a6a6a6", "strokeWidth": 1, "strokeDash": [1.5,1.5]}, "encoding": {"detail": [{"field": "s"}, {"field": "m"}]}},
                    {"transform": [{"filter": "datum.m == 'Lac'"}], "mark": {"type": "point", "filled": false, "size": 40, "opacity": 1, "strokeWidth": 1},
                     "encoding": {"shape": {"field": "s", "type": "nominal"}, "stroke": {"field": "s", "type": "nominal", "scale": {"domain": ["growth","CCI 1","CCI 2","CCI 3"], "range": ["#505050","#adadad","#adadad","#adadad"]}, "legend": null}}},
                    {"transform": [{"filter": "datum.m == 'Glc'"}], "mark": {"type": "point", "filled": true, "size": 40, "opacity": 1},
                     "encoding": {
                       "shape": {"field": "s", "type": "nominal", "scale": {"domain": ["growth","CCI 1","CCI 2","CCI 3"], "range": ["diamond","square","triangle-up","circle"]}, "legend": {"title": null, "orient": "top-right", "direction": "horizontal", "columns": 2, "offset": 3, "labelFontSize": 13, "symbolSize": 40, "columnPadding": 6, "rowPadding": 1, "labelOffset": 2}},
                       "fill": {"field": "s", "type": "nominal", "scale": {"domain": ["growth","CCI 1","CCI 2","CCI 3"], "range": ["#000000","#808080","#808080","#808080"]}, "legend": {"title": null, "orient": "top-right", "direction": "horizontal", "columns": 2, "offset": 3, "labelFontSize": 13, "symbolSize": 40, "columnPadding": 6, "rowPadding": 1, "labelOffset": 2}}
                     }}
                  ]
                }
              ]
            },
            {
              "spacing": 46,
              "resolve": {"scale": {"color": "independent", "shape": "independent", "fill": "independent", "stroke": "independent"}},
              "hconcat": [
                {
                  "width": 264, "height": 186,
                  "data": {"name": "n1"},
                  "encoding": {
                    "x": {"field": "t", "type": "quantitative", "scale": {"domain": [0,192], "nice": false, "zero": false}, "axis": {"values": [0,24,48,72,96,120,144,168,192], "title": null, "labelFontSize": 14, "labelFlush": false, "labelOverlap": false}},
                    "y": {"field": "y", "type": "quantitative", "scale": {"domain": [0,4.5], "nice": false}, "axis": {"values": [0,0.5,1,1.5,2,2.5,3,3.5,4,4.5], "format": ".1f", "title": "Gln and NH4⁺ (mM)", "titleFontSize": 18, "titleFontWeight": "bold", "titlePadding": 26, "minExtent": 28, "maxExtent": 28, "labelFontSize": 14}}
                  },
                  "layer": [
                    {"mark": {"type": "line", "stroke": "#a6a6a6", "strokeWidth": 1, "strokeDash": [1.5,1.5]}, "encoding": {"detail": [{"field": "s"}, {"field": "m"}]}},
                    {"transform": [{"filter": "datum.m == 'NH4'"}], "mark": {"type": "point", "filled": false, "size": 40, "opacity": 1, "strokeWidth": 1},
                     "encoding": {"shape": {"field": "s", "type": "nominal", "scale": {"domain": ["growth","CCI 1","CCI 3","CCI 5"], "range": ["diamond","square","triangle-up","circle"]}, "legend": null}, "stroke": {"field": "s", "type": "nominal", "scale": {"domain": ["growth","CCI 1","CCI 3","CCI 5"], "range": ["#505050","#adadad","#adadad","#adadad"]}, "legend": null}}},
                    {"transform": [{"filter": "datum.m == 'Gln'"}], "mark": {"type": "point", "filled": true, "size": 40, "opacity": 1},
                     "encoding": {
                       "shape": {"field": "s", "type": "nominal", "legend": null},
                       "fill": {"field": "s", "type": "nominal", "scale": {"domain": ["growth","CCI 1","CCI 3","CCI 5"], "range": ["#000000","#808080","#808080","#808080"]}, "legend": null}
                     }}
                  ]
                },
                {
                  "width": 267, "height": 186,
                  "data": {"name": "n2"},
                  "encoding": {
                    "x": {"field": "t", "type": "quantitative", "scale": {"domain": [0,192], "nice": false, "zero": false}, "axis": {"values": [0,24,48,72,96,120,144,168,192], "title": null, "labelFontSize": 14, "labelFlush": false, "labelOverlap": false}},
                    "y": {"field": "y", "type": "quantitative", "scale": {"domain": [0,4.5], "nice": false}, "axis": {"values": [0,0.5,1,1.5,2,2.5,3,3.5,4,4.5], "format": ".1f", "title": null, "labelFontSize": 14}}
                  },
                  "layer": [
                    {"mark": {"type": "line", "stroke": "#a6a6a6", "strokeWidth": 1, "strokeDash": [1.5,1.5]}, "encoding": {"detail": [{"field": "s"}, {"field": "m"}]}},
                    {"transform": [{"filter": "datum.m == 'NH4'"}], "mark": {"type": "point", "filled": false, "size": 40, "opacity": 1, "strokeWidth": 1},
                     "encoding": {"shape": {"field": "s", "type": "nominal", "scale": {"domain": ["growth","CCI 1","CCI 2","CCI 3"], "range": ["diamond","square","triangle-up","circle"]}, "legend": null}, "stroke": {"field": "s", "type": "nominal", "scale": {"domain": ["growth","CCI 1","CCI 2","CCI 3"], "range": ["#505050","#adadad","#adadad","#adadad"]}, "legend": null}}},
                    {"transform": [{"filter": "datum.m == 'Gln'"}], "mark": {"type": "point", "filled": true, "size": 40, "opacity": 1},
                     "encoding": {
                       "shape": {"field": "s", "type": "nominal", "legend": null},
                       "fill": {"field": "s", "type": "nominal", "scale": {"domain": ["growth","CCI 1","CCI 2","CCI 3"], "range": ["#000000","#808080","#808080","#808080"]}, "legend": null}
                     }}
                  ]
                }
              ]
            }
          ]
        },
        {
          "width": 639, "height": 6,
          "view": {"stroke": null},
          "data": {"values": [{}]},
          "layer": [
            {"mark": {"type": "rule", "color": "#000000", "strokeWidth": 2},
             "encoding": {
               "x": {"datum": -0.028, "type": "quantitative", "scale": {"domain": [0,1], "nice": false, "zero": false}, "axis": {"title": "Time (h)", "labels": false, "ticks": false, "domain": false, "grid": false, "titleFontSize": 16, "titleFontWeight": "bold", "titlePadding": 4, "minExtent": 0, "maxExtent": 0, "titleX": 289}},
               "x2": {"datum": 0.985},
               "y": {"datum": 0.5, "type": "quantitative", "scale": {"domain": [0,1]}, "axis": null}
             }},
            {"mark": {"type": "point", "shape": "triangle-right", "filled": true, "color": "#000000", "size": 80, "opacity": 1},
             "encoding": {
               "x": {"datum": 0.992, "type": "quantitative"},
               "y": {"datum": 0.5, "type": "quantitative"}
             }}
          ]
        }
      ]
    }
  ]
}
]
}
